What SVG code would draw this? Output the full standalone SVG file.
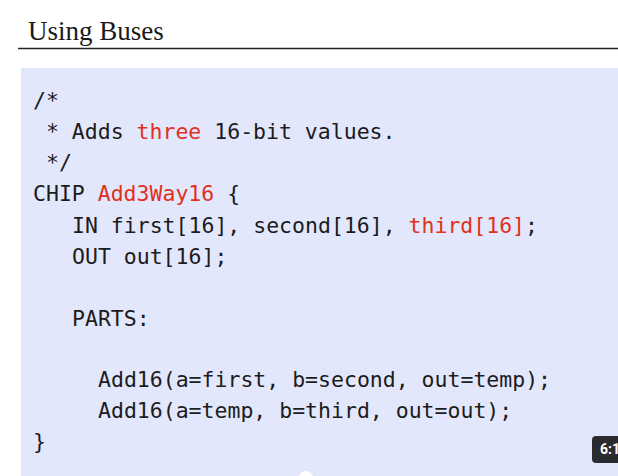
<svg xmlns="http://www.w3.org/2000/svg" width="618" height="476" viewBox="0 0 618 476">
<style>
.code{font-family:"DejaVu Sans Mono","Liberation Mono",monospace;font-size:21.5px;fill:#1c1c1c;white-space:pre}
.red{fill:#e0311c}
.title{font-family:"Liberation Serif","Times New Roman",serif;font-size:27px;fill:#1a1a1a}
</style>
<rect x="0" y="0" width="618" height="476" fill="#ffffff"/>
<g id="title">
<text class="title" x="28" y="40">Using Buses</text>
<line x1="18" y1="48.5" x2="618" y2="48.5" stroke="#222" stroke-width="1.5"/>
</g>
<g id="panel">
<rect x="21" y="68" width="597" height="408" fill="#e3e7fc"/>
<text class="code" x="33" y="108">/*</text>
<text class="code" x="33" y="139"> * Adds <tspan class="red">three</tspan> 16-bit values.</text>
<text class="code" x="33" y="170"> */</text>
<text class="code" x="33" y="201">CHIP <tspan class="red">Add3Way16</tspan> {</text>
<text class="code" x="72" y="233">IN first[16], second[16], <tspan class="red">third[16]</tspan>;</text>
<text class="code" x="72" y="264">OUT out[16];</text>
<text class="code" x="72" y="326">PARTS:</text>
<text class="code" x="98" y="387">Add16(a=first, b=second, out=temp);</text>
<text class="code" x="98" y="418">Add16(a=temp, b=third, out=out);</text>
<text class="code" x="33" y="449">}</text>
</g>
<g id="overlay">
<rect x="592" y="436" width="40" height="27" rx="4" fill="#2a2b2f"/>
<text x="600" y="454" font-family="Roboto,'Liberation Sans',sans-serif" font-size="14" font-weight="bold" fill="#ffffff">6:1</text>
<circle cx="306" cy="478" r="7" fill="#ffffff"/>
</g>
</svg>
